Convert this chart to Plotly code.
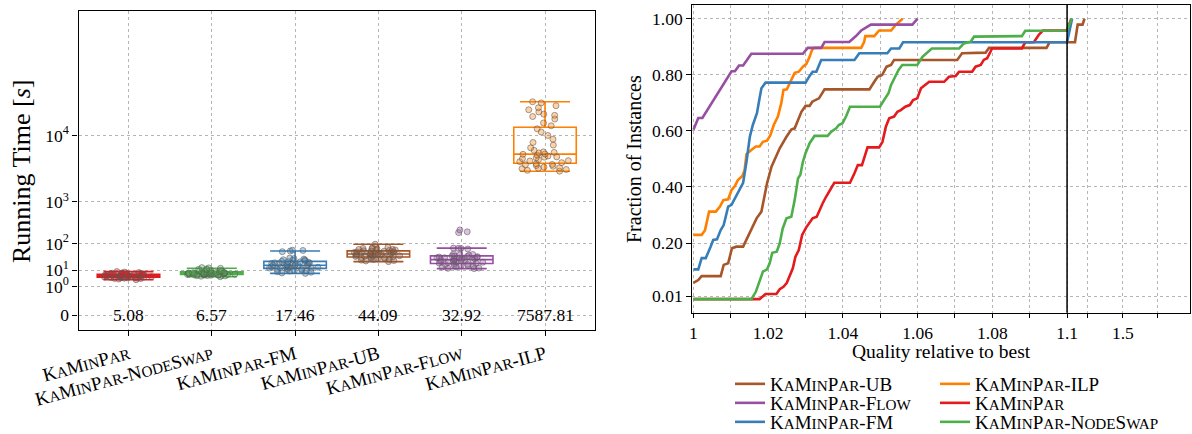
import plotly.graph_objects as go

# ---------------- data: running times (seconds) per instance ----------------
algorithms = ["KaMinPar", "KaMinPar-NodeSwap", "KaMinPar-FM",
              "KaMinPar-UB", "KaMinPar-Flow", "KaMinPar-ILP"]
box_colors = ["#e41a1c", "#4daf4a", "#377eb8", "#a65628", "#984ea3", "#ff7f00"]
box_fills = ["rgba(228,26,28,0.35)", "rgba(77,175,74,0.35)", "rgba(55,126,184,0.35)",
             "rgba(166,86,40,0.35)", "rgba(152,78,163,0.35)", "rgba(255,127,0,0.35)"]

time_kaminpar = [3.0, 3.3, 3.5, 3.6, 3.8, 3.9, 4.0, 4.1, 4.2, 4.25, 4.3, 4.4, 4.5, 4.6, 4.7,
                 4.8, 4.85, 4.9, 5.0, 5.1, 5.2, 5.3, 5.4, 5.5, 5.6, 5.7, 5.8, 5.9, 6.0, 6.1,
                 6.2, 6.3, 6.5, 6.7, 6.9, 7.2, 7.5, 7.9, 8.4, 3.7, 4.35, 5.05, 5.65, 6.4,
                 4.05, 5.25, 4.75, 7.0]
time_nodeswap = [4.5, 4.8, 5.0, 5.1, 5.3, 5.4, 5.5, 5.6, 5.7, 5.8, 5.9, 6.0, 6.1, 6.2, 6.3,
                 6.4, 6.5, 6.6, 6.7, 6.8, 6.9, 7.0, 7.1, 7.2, 7.3, 7.4, 7.6, 7.8, 8.0, 8.2,
                 8.5, 8.9, 9.3, 9.8, 10.4, 11.2, 12.1, 13.0, 5.25, 6.15, 6.55, 7.05, 7.5,
                 5.95, 6.85, 9.6, 10.9, 12.6]
time_fm = [6.8, 7.2, 7.8, 8.3, 8.9, 9.5, 10.1, 10.8, 11.3, 11.9, 12.5, 13.1, 13.8, 14.4,
           15.0, 15.6, 16.0, 16.5, 17.1, 17.8, 18.5, 19.3, 20.2, 21.1, 22.0, 23.0, 24.2,
           25.5, 26.8, 28.0, 29.5, 31.0, 32.5, 55.0, 58.0, 60.5, 62.0, 9.2, 12.2, 14.1,
           16.2, 19.8, 23.5, 27.5, 10.5, 13.5, 18.0]
time_ub = [23.5, 25.0, 27.0, 28.5, 30.0, 31.0, 32.0, 33.5, 35.0, 36.5, 38.0, 39.5, 41.0,
           42.0, 43.5, 44.5, 45.5, 47.0, 48.5, 50.0, 51.5, 53.0, 55.0, 57.0, 59.0, 61.0,
           63.0, 65.5, 68.0, 71.0, 74.0, 77.0, 96.0, 26.0, 34.0, 40.0, 46.0, 52.0, 58.0,
           66.0, 29.0, 37.0, 49.0, 54.0, 62.0, 70.0, 44.0]
time_flow = [11.7, 12.4, 13.6, 14.3, 15.7, 16.4, 17.8, 18.3, 19.6, 20.4, 21.7, 22.3, 23.6,
             24.2, 25.8, 26.3, 27.7, 28.2, 29.6, 30.4, 31.3, 32.7, 33.2, 34.8, 35.3, 36.6,
             37.2, 38.7, 39.4, 41.0, 42.6, 44.1, 46.0, 68.0, 70.5, 71.0, 72.5, 205.0,
             215.0, 240.0, 12.1, 14.1, 16.2, 20.1, 24.3, 27.9, 33.4]
time_ilp = [3300, 3400, 3500, 3600, 3700, 3800, 3900, 4000, 4100, 4250, 4400, 4550, 4700,
            4850, 5000, 5150, 5300, 5450, 5600, 5800, 6000, 6200, 6500, 7000, 7600, 8200,
            9000, 10000, 11000, 12000, 13000, 14000, 15500, 16500, 17500, 18500, 19500,
            20500, 21500, 23000, 23600, 3650, 4150, 4650, 5250, 5750, 6100, 17000]
all_times = [time_kaminpar, time_nodeswap, time_fm, time_ub, time_flow, time_ilp]
mean_labels = ["5.08", "6.57", "17.46", "44.09", "32.92", "7587.81"]
y_tick_values = [0, 1, 10, 100, 1000, 10000]
y_tick_texts = ["0", "10<sup>0</sup>", "10<sup>1</sup>", "10<sup>2</sup>",
                "10<sup>3</sup>", "10<sup>4</sup>"]

# ---------------- data: performance profile ----------------
ub_q = [1.0, 1.0013, 1.0022, 1.0073, 1.0081, 1.0093, 1.0103, 1.0115, 1.0133, 1.0146, 1.0155,
        1.0169, 1.0182, 1.0191, 1.0197, 1.0209, 1.0222, 1.0231, 1.0249, 1.0262, 1.0271,
        1.0277, 1.0289, 1.03, 1.0311, 1.0318, 1.0336, 1.0351, 1.0471, 1.0484, 1.0493,
        1.0505, 1.0517, 1.0529, 1.0537, 1.0706, 1.0719, 1.0782, 1.0791, 1.0945, 1.0953,
        1.157, 1.176, 1.211, 1.225]
ub_f = [0.058, 0.068, 0.082, 0.082, 0.122, 0.128, 0.181, 0.187, 0.187, 0.223, 0.252, 0.288,
        0.312, 0.377, 0.413, 0.472, 0.514, 0.538, 0.579, 0.605, 0.609, 0.627, 0.668, 0.689,
        0.689, 0.704, 0.716, 0.748, 0.748, 0.775, 0.793, 0.799, 0.829, 0.835, 0.853, 0.853,
        0.877, 0.879, 0.896, 0.896, 0.916, 0.916, 0.979, 0.979, 1.0]
ilp_q = [1.0, 1.0022, 1.0031, 1.0042, 1.0060, 1.0071, 1.0080, 1.0093, 1.0102, 1.0111,
         1.0119, 1.0131, 1.0137, 1.0142, 1.0155, 1.0167, 1.0177, 1.0186, 1.0197, 1.0206,
         1.0215, 1.0226, 1.0235, 1.0241, 1.025, 1.0259, 1.0271, 1.0282, 1.0293, 1.0302,
         1.0311, 1.0318, 1.0324, 1.0449, 1.0457, 1.046, 1.0484, 1.0497, 1.0529, 1.0542,
         1.0555, 1.056]
ilp_f = [0.229, 0.229, 0.246, 0.312, 0.312, 0.330, 0.353, 0.356, 0.389, 0.403, 0.425, 0.439,
         0.460, 0.517, 0.532, 0.544, 0.544, 0.561, 0.565, 0.585, 0.621, 0.651, 0.698, 0.746,
         0.748, 0.775, 0.807, 0.811, 0.829, 0.838, 0.864, 0.891, 0.896, 0.896, 0.918, 0.938,
         0.938, 0.958, 0.958, 0.979, 0.995, 1.0]
flow_q = [1.0, 1.0013, 1.0024, 1.0102, 1.0111, 1.0122, 1.0133, 1.0155, 1.0293, 1.0306,
          1.0342, 1.0351, 1.0417, 1.0435, 1.0449, 1.0475, 1.0586, 1.0600]
flow_f = [0.604, 0.646, 0.646, 0.8125, 0.8125, 0.833, 0.833, 0.875, 0.875, 0.896, 0.896,
          0.917, 0.917, 0.938, 0.958, 0.979, 0.979, 1.0]
km_q = [1.0, 1.0177, 1.0193, 1.0222, 1.0231, 1.0241, 1.025, 1.0257, 1.0266, 1.0273, 1.0282,
        1.0291, 1.0302, 1.0319, 1.033, 1.0346, 1.0355, 1.0377, 1.0419, 1.0431, 1.044,
        1.0451, 1.0466, 1.0497, 1.0506, 1.0515, 1.0524, 1.0537, 1.0546, 1.0555, 1.0567,
        1.0579, 1.0588, 1.0599, 1.0609, 1.0631, 1.0671, 1.0684, 1.0702, 1.0711, 1.0746,
        1.0755, 1.0769, 1.0777, 1.0786, 1.0795, 1.0799, 1.0879, 1.0888, 1.0911, 1.0924,
        1.0935, 1.1, 1.13]
km_f = [0.0, 0.0, 0.018, 0.018, 0.035, 0.044, 0.058, 0.080, 0.110, 0.151, 0.175, 0.229,
        0.256, 0.288, 0.294, 0.342, 0.365, 0.415, 0.415, 0.449, 0.478, 0.478, 0.541, 0.541,
        0.561, 0.615, 0.645, 0.651, 0.668, 0.674, 0.686, 0.692, 0.710, 0.716, 0.752, 0.775,
        0.775, 0.793, 0.796, 0.811, 0.811, 0.829, 0.835, 0.853, 0.859, 0.882, 0.894, 0.894,
        0.916, 0.916, 0.942, 0.958, 0.958, 1.0]
fm_q = [1.0, 1.0013, 1.0022, 1.0033, 1.0046, 1.0053, 1.0063, 1.0073, 1.0081, 1.0093, 1.0102,
        1.0111, 1.0122, 1.0133, 1.0142, 1.0151, 1.0159, 1.017, 1.0177, 1.0182, 1.0193, 1.03,
        1.0311, 1.0319, 1.0329, 1.0342, 1.0431, 1.0444, 1.0519, 1.0529, 1.0551, 1.0561, 1.1,
        1.136]
fm_f = [0.106, 0.106, 0.146, 0.146, 0.187, 0.211, 0.213, 0.246, 0.264, 0.330, 0.336, 0.359,
        0.389, 0.415, 0.49, 0.579, 0.621, 0.663, 0.716, 0.752, 0.772, 0.772, 0.796, 0.811,
        0.811, 0.853, 0.853, 0.877, 0.877, 0.894, 0.894, 0.916, 0.916, 1.0]
ns_q = [1.0, 1.0155, 1.0167, 1.0177, 1.0186, 1.0197, 1.0204, 1.0211, 1.0223, 1.0231, 1.0239,
        1.0249, 1.0262, 1.0271, 1.028, 1.0286, 1.0293, 1.0300, 1.0311, 1.0324, 1.0359,
        1.0369, 1.0382, 1.0389, 1.0399, 1.0409, 1.0419, 1.0499, 1.0511, 1.0522, 1.0529,
        1.0537, 1.0549, 1.0559, 1.0599, 1.0613, 1.0623, 1.0638, 1.0711, 1.0724, 1.0742,
        1.0751, 1.0879, 1.0888, 1.1, 1.133]
ns_f = [0.0, 0.0, 0.026, 0.062, 0.098, 0.106, 0.128, 0.165, 0.169, 0.199, 0.252, 0.288,
        0.294, 0.353, 0.431, 0.443, 0.490, 0.52, 0.556, 0.582, 0.582, 0.597, 0.609, 0.621,
        0.627, 0.653, 0.686, 0.686, 0.710, 0.734, 0.764, 0.787, 0.817, 0.835, 0.835, 0.864,
        0.877, 0.894, 0.894, 0.912, 0.918, 0.936, 0.938, 0.957, 0.958, 1.0]

profile_names = ["KaMinPar-UB", "KaMinPar-ILP", "KaMinPar-Flow",
                 "KaMinPar", "KaMinPar-FM", "KaMinPar-NodeSwap"]
profile_q = [ub_q, ilp_q, flow_q, km_q, fm_q, ns_q]
profile_f = [ub_f, ilp_f, flow_f, km_f, fm_f, ns_f]
profile_colors = ["#a65628", "#ff7f00", "#984ea3", "#e41a1c", "#377eb8", "#4daf4a"]

q_major = [1.0, 1.02, 1.04, 1.06, 1.08, 1.1, 1.5]
q_major_text = ["1", "1.02", "1.04", "1.06", "1.08", "1.1", "1.5"]
q_minor = [1.01, 1.03, 1.05, 1.07, 1.09, 1.25, 1.75]
f_ticks = [0.01, 0.2, 0.4, 0.6, 0.8, 1.0]
f_tick_text = ["0.01", "0.20", "0.40", "0.60", "0.80", "1.00"]

FONT = "Liberation Serif"
SC_BIG, SC_SMALL = 19, 15.2


def fifth_root(v):
    return v ** 0.2


def qpos(q):
    # linear up to 1.1, compressed linear segment afterwards
    return q - 1.0 if q <= 1.1 else 0.1 + (q - 1.1) * 0.0373


def small_caps(name, small):
    out, buf = "", ""
    for ch in name:
        if ch.islower():
            buf += ch.upper()
        else:
            if buf:
                out += f'<span style="font-size:{small}px">{buf}</span>'
                buf = ""
            out += ch
    if buf:
        out += f'<span style="font-size:{small}px">{buf}</span>'
    return out


fig = go.Figure()

# ---------------- left: box plots ----------------
for i, (vals, col, fillc) in enumerate(zip(all_times, box_colors, box_fills)):
    fig.add_trace(go.Box(
        x=[i] * len(vals), y=[fifth_root(v) for v in vals],
        xaxis="x", yaxis="y", width=0.75, whiskerwidth=0.8,
        boxpoints="all", jitter=0.9, pointpos=0,
        line=dict(color=col, width=1.6),
        fillcolor="rgba(255,255,255,0)",
        marker=dict(color=fillc, size=6, line=dict(color="rgba(90,90,90,0.7)", width=0.8)),
        showlegend=False, hoverinfo="skip",
    ))

# ---------------- right: performance profile ----------------
# one single-entry legend per series, placed in a 2 x 3 grid under the right panel
col_x = [730, 935]
row_y = [384, 403, 422]
legend_slots = [(0, 0), (1, 0), (0, 1), (1, 1), (0, 2), (1, 2)]
legend_layouts = {}
for k, (name, qs, fs, col) in enumerate(zip(profile_names, profile_q, profile_f,
                                             profile_colors)):
    lname = "legend" if k == 0 else f"legend{k + 1}"
    fig.add_trace(go.Scatter(
        x=[qpos(q) for q in qs], y=fs, xaxis="x2", yaxis="y2",
        mode="lines", line=dict(color=col, width=2.6),
        name=small_caps(name, SC_SMALL), legend=lname,
    ))
    cx, ry = legend_slots[k]
    legend_layouts[lname] = dict(
        x=col_x[cx] / 1192, xanchor="left", y=1 - row_y[ry] / 434, yanchor="middle",
        font=dict(family=FONT, size=SC_BIG, color="black"),
        itemwidth=30, bgcolor="rgba(0,0,0,0)", borderwidth=0,
    )

annotations = []
for i, lab in enumerate(mean_labels):
    annotations.append(dict(x=i, y=0, xref="x", yref="y", text=lab, showarrow=False,
                            xanchor="center", yanchor="middle",
                            font=dict(family=FONT, size=17.5, color="black")))
annotations += [
    dict(x=21 / 1192, y=1 - 171 / 434, xref="paper", yref="paper",
         text="Running Time [<i>s</i>]", textangle=-90, showarrow=False,
         xanchor="center", yanchor="middle",
         font=dict(family=FONT, size=26, color="black")),
    dict(x=634 / 1192, y=1 - 159 / 434, xref="paper", yref="paper",
         text="Fraction of Instances", textangle=-90, showarrow=False,
         xanchor="center", yanchor="middle",
         font=dict(family=FONT, size=20, color="black")),
    dict(x=941.7 / 1192, y=1 - 351 / 434, xref="paper", yref="paper",
         text="Quality relative to best", showarrow=False,
         xanchor="center", yanchor="middle",
         font=dict(family=FONT, size=19.5, color="black")),
]

common = dict(showgrid=True, gridcolor="#b5b5b5", gridwidth=1, griddash="3px,3px",
              zeroline=False, showline=True, linecolor="black", linewidth=1.2, mirror=True,
              ticks="outside", ticklen=5, tickcolor="black", automargin=False)
tick_font = dict(family=FONT, size=17.5, color="black")
common_x2 = dict(common, ticklen=4)

fig.update_layout(
    width=1192, height=434,
    margin=dict(l=0, r=0, t=0, b=0, autoexpand=False),
    paper_bgcolor="white", plot_bgcolor="white",
    boxmode="overlay",
    font=dict(family=FONT, color="black"),
    xaxis=dict(domain=[78.5 / 1192, 595 / 1192], range=[-0.6, 5.6], anchor="y",
               tickvals=list(range(len(algorithms))),
               ticktext=[small_caps(a, SC_SMALL) for a in algorithms],
               tickangle=-15, tickfont=dict(family=FONT, size=SC_BIG, color="black"),
               **common),
    yaxis=dict(domain=[1 - 330 / 434, 1 - 10.7 / 434], range=[-0.52, 10.69], anchor="x",
               tickvals=[fifth_root(v) for v in y_tick_values], ticktext=y_tick_texts,
               tickfont=tick_font, **common),
    xaxis2=dict(domain=[692.3 / 1192, 1190 / 1192], range=[-0.0003, 0.1329], anchor="y2",
                tickvals=[qpos(q) for q in q_major], ticktext=q_major_text,
                tickfont=tick_font,
                minor=dict(tickvals=[qpos(q) for q in q_minor], ticks="outside", ticklen=4,
                           tickcolor="black", showgrid=True, gridcolor="#b5b5b5",
                           griddash="3px,3px", gridwidth=1),
                **common_x2),
    yaxis2=dict(domain=[1 - 312.7 / 434, 1 - 4.7 / 434], range=[-0.0485, 1.05], anchor="x2",
                tickvals=f_ticks, ticktext=f_tick_text, tickfont=tick_font, **common),
    annotations=annotations,
    shapes=[dict(type="line", xref="x2", yref="y2 domain", x0=qpos(1.1), x1=qpos(1.1),
                 y0=0, y1=1, line=dict(color="black", width=1.5))],
    **legend_layouts,
)

fig.write_html("out.html")
